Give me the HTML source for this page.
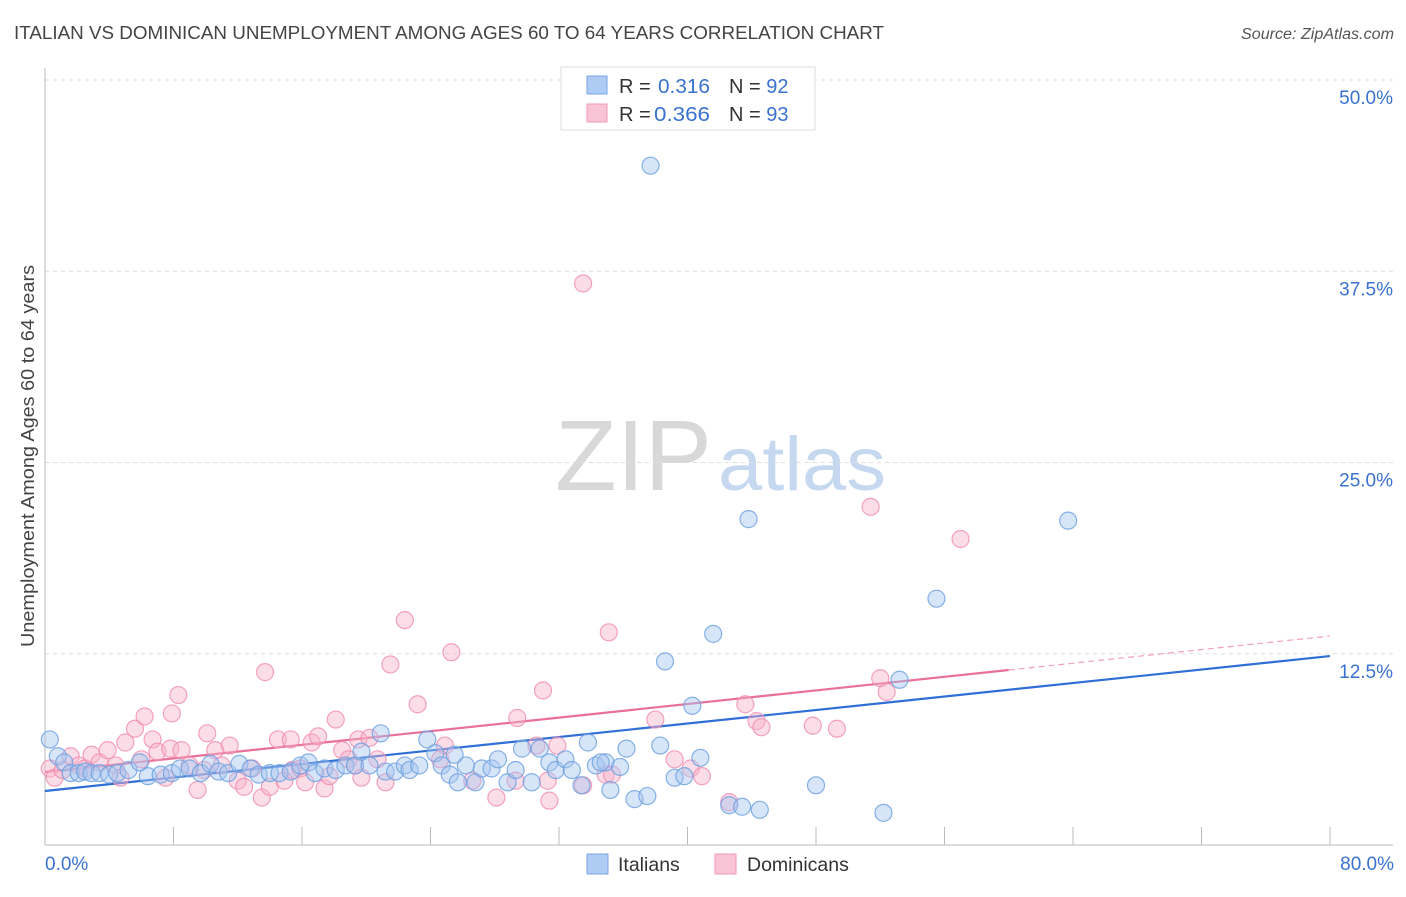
<!DOCTYPE html>
<html><head><meta charset="utf-8"><style>
body{margin:0;background:#fff;font-family:"Liberation Sans",sans-serif;}
svg text{font-family:"Liberation Sans",sans-serif;}
</style></head><body>
<svg id="chart" width="1406" height="892" viewBox="0 0 1406 892" xmlns="http://www.w3.org/2000/svg">
<text x="14" y="39" font-size="18.5" fill="#444" textLength="870" lengthAdjust="spacingAndGlyphs">ITALIAN VS DOMINICAN UNEMPLOYMENT AMONG AGES 60 TO 64 YEARS CORRELATION CHART</text>
<text x="1241" y="39" font-size="15.5" fill="#555" font-style="italic" textLength="153" lengthAdjust="spacingAndGlyphs">Source: ZipAtlas.com</text>
<g>
<text x="555" y="490" font-size="100" fill="#d8d8d8" font-family="Liberation Serif, serif" textLength="157" lengthAdjust="spacingAndGlyphs">ZIP</text>
<text x="718" y="490" font-size="76" fill="#c5d8f0" textLength="168" lengthAdjust="spacingAndGlyphs">atlas</text>
</g>
<g id="grid"></g>
<g id="axes"></g>
<g id="trends"></g>
<g id="points"></g>
<text transform="translate(34,456) rotate(-90)" font-size="18" fill="#444" text-anchor="middle" textLength="382" lengthAdjust="spacingAndGlyphs">Unemployment Among Ages 60 to 64 years</text>
<g>
<rect x="561" y="67" width="254" height="63" fill="#fff" stroke="#ddd"/>
<rect x="587" y="76" width="20" height="18" fill="#aecbf3" stroke="#7aa6e6"/>
<rect x="587" y="104" width="20" height="18" fill="#f9c4d5" stroke="#f09ab8"/>
<text x="619" y="93" font-size="20" fill="#333">R = </text><text x="658" y="93" font-size="20" fill="#3a72d0" textLength="52" lengthAdjust="spacingAndGlyphs">0.316</text>
<text x="729" y="93" font-size="20" fill="#333">N = <tspan fill="#3a72d0">92</tspan></text>
<text x="619" y="121" font-size="20" fill="#333">R = </text><text x="654" y="121" font-size="20" fill="#3a72d0" textLength="56" lengthAdjust="spacingAndGlyphs">0.366</text>
<text x="729" y="121" font-size="20" fill="#333">N = <tspan fill="#3a72d0">93</tspan></text>
</g>
<g>
<rect x="587" y="854" width="21" height="20" fill="#aecbf3" stroke="#7aa6e6"/>
<text x="618" y="871" font-size="19.5" fill="#333">Italians</text>
<rect x="715" y="854" width="21" height="20" fill="#f9c4d5" stroke="#f09ab8"/>
<text x="747" y="871" font-size="19.5" fill="#333">Dominicans</text>
</g>
</svg>
<script>
const yTicks=[12.5,25,37.5,50];
const yTickLabels=["12.5%","25.0%","37.5%","50.0%"];
const xTickCount=10;
const xRange=[0,80];
const yRange=[0,50];
const italiansX=[0.3,0.8,1.2,1.6,2.1,2.5,2.9,3.4,4.0,4.5,5.2,5.9,6.4,7.2,7.9,8.4,9.0,9.7,10.3,10.8,11.4,12.1,12.8,13.3,14.0,14.6,15.3,15.9,16.4,16.8,17.4,18.1,18.7,19.3,19.7,20.2,20.9,21.2,21.8,22.4,22.7,23.3,23.8,24.3,24.7,25.2,25.7,26.2,26.8,27.2,27.8,28.2,28.8,29.3,29.7,30.3,30.8,31.4,31.8,32.4,32.8,33.4,33.8,34.3,34.9,35.2,35.8,36.2,36.7,37.5,37.7,38.3,38.6,39.2,39.8,40.3,40.8,41.6,42.6,43.4,43.8,44.5,48.0,52.2,53.2,55.5,63.7,25.5,34.6];
const italiansY=[6.9,5.8,5.4,4.7,4.7,4.8,4.7,4.7,4.6,4.7,4.9,5.4,4.5,4.6,4.7,5.0,5.0,4.7,5.3,4.8,4.7,5.3,5.0,4.6,4.7,4.7,4.8,5.2,5.4,4.7,5.0,4.9,5.2,5.2,6.1,5.2,7.3,4.8,4.8,5.2,4.9,5.2,6.9,6.0,5.2,4.6,4.1,5.2,4.1,5.0,5.0,5.6,4.1,4.9,6.3,4.1,6.3,5.4,4.9,5.6,4.9,3.9,6.7,5.2,5.4,3.6,5.1,6.3,3.0,3.2,44.4,6.5,12.0,4.4,4.5,9.1,5.7,13.8,2.6,2.5,21.3,2.3,3.9,2.1,10.8,16.1,21.2,5.9,5.4];
const dominicansX=[0.3,0.6,1.1,1.6,2.1,2.5,2.9,3.4,3.9,4.4,4.7,5.0,5.6,6.0,6.2,6.7,7.0,7.5,7.8,7.9,8.3,8.5,9.0,9.5,9.9,10.1,10.6,11.0,11.5,12.0,12.4,12.9,13.5,13.7,14.0,14.5,14.9,15.4,15.9,16.2,16.6,17.0,17.4,17.7,18.1,18.5,18.9,19.3,19.5,19.7,20.2,20.7,21.2,21.5,22.4,23.2,24.9,25.3,26.6,28.1,29.4,30.6,31.0,31.3,31.4,31.9,33.5,33.5,34.9,35.1,35.3,38.0,39.2,40.2,40.9,42.6,43.6,44.3,44.6,47.8,49.3,51.4,52.0,52.4,57.0,24.6,29.3,15.3];
const dominicansY=[5.0,4.4,4.9,5.8,5.2,5.0,5.9,5.4,6.2,5.2,4.4,6.7,7.6,5.6,8.4,6.9,6.1,4.4,6.3,8.6,9.8,6.2,5.2,3.6,4.9,7.3,6.2,5.2,6.5,4.2,3.8,5.0,3.1,11.3,3.8,6.9,4.2,4.9,5.0,4.1,6.7,7.1,3.7,4.5,8.2,6.2,5.6,5.2,6.9,4.4,7.0,5.6,4.1,11.8,14.7,9.2,6.5,12.6,4.2,3.1,8.3,6.5,10.1,4.2,2.9,6.5,36.7,3.9,4.6,13.9,4.6,8.2,5.6,5.0,4.5,2.8,9.2,8.1,7.7,7.8,7.6,22.1,10.9,10.0,20.0,5.6,4.2,6.9];
const italiansTrend=[3.53,12.35];
const dominicansTrend=[4.77,13.66];
const dominicansSolidEnd=60;

const NS="http://www.w3.org/2000/svg";
const X0=45,X1=1330,Y0=845,Y1=80;
function sx(v){return X0+(v-xRange[0])/(xRange[1]-xRange[0])*(X1-X0);}
function sy(v){return Y0-(v-yRange[0])/(yRange[1]-yRange[0])*(Y0-Y1);}
function mk(tag,attrs,parent){const e=document.createElementNS(NS,tag);for(const k in attrs)e.setAttribute(k,attrs[k]);parent.appendChild(e);return e;}
const grid=document.getElementById('grid'),axes=document.getElementById('axes'),tr=document.getElementById('trends'),pts=document.getElementById('points');
yTicks.forEach((t,i)=>{
  const l=mk('line',{x1:X0,x2:1393,y1:sy(t),y2:sy(t),stroke:'#ddd','stroke-dasharray':'4,4'},grid);
  
  
  const tx=mk('text',{x:1393,y:sy(t)+24,'font-size':19,fill:'#3a72d0','text-anchor':'end'},axes);
  tx.textContent=yTickLabels[i];
  
  
});
const xa=mk('line',{x1:X0,x2:1393,y1:Y0,y2:Y0,stroke:'#bbb'},axes);


const ya=mk('line',{x1:X0,x2:X0,y1:68,y2:Y0,stroke:'#bbb'},axes);


for(let i=0;i<=xTickCount;i++){
  const v=xRange[0]+i*(xRange[1]-xRange[0])/xTickCount;
  const t=mk('line',{x1:sx(v),x2:sx(v),y1:Y0,y2:Y0-18,stroke:'#bbb'},axes);
  
  
}
[[xRange[0],'start','0.0%'],[xRange[1],'end','80.0%']].forEach(a=>{
  const tx=mk('text',{x:a[0]===0?sx(a[0]):sx(a[0])+64,y:870,'font-size':19,fill:'#3a72d0','text-anchor':a[1]},axes);
  tx.textContent=a[2];
  
  
});
function drawPts(xs,ys,fill,stroke,name){
  xs.forEach((x,i)=>{
    const c=mk('circle',{cx:sx(x),cy:sy(ys[i]),r:8.5,fill:fill,'fill-opacity':0.45,stroke:stroke,'stroke-width':1.2,'stroke-opacity':0.8},pts);
    
    
  });
}
drawPts(dominicansX,dominicansY,'#f7b3c9','#f08cb0','dominican-point');
drawPts(italiansX,italiansY,'#a6c6f0','#6a9fe0','italian-point');
const bl=mk('line',{x1:sx(0),y1:sy(italiansTrend[0]),x2:sx(80),y2:sy(italiansTrend[1]),stroke:'#2f6fd6','stroke-width':2.2},tr);


const pm=dominicansTrend[0]+(dominicansTrend[1]-dominicansTrend[0])*dominicansSolidEnd/80;
const pl=mk('line',{x1:sx(0),y1:sy(dominicansTrend[0]),x2:sx(dominicansSolidEnd),y2:sy(pm),stroke:'#e8709a','stroke-width':2.2},tr);


const pd=mk('line',{x1:sx(dominicansSolidEnd),y1:sy(pm),x2:sx(80),y2:sy(dominicansTrend[1]),stroke:'#f0a0bc','stroke-width':1.2,'stroke-dasharray':'6,4'},tr);


</script>
</body></html>
